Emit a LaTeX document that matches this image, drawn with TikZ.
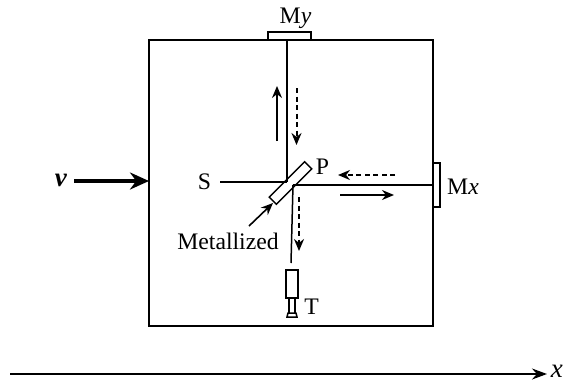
\documentclass[tikz,border=0pt]{standalone}
\usepackage{fontspec}
\setmainfont{Liberation Serif}
\usetikzlibrary{arrows.meta}
\tikzset{
  px/.style={x=1pt,y=-1pt},
  ln/.style={line width=1.7pt,line cap=butt},
  thin ln/.style={line width=1.5pt},
  part/.style={draw,thin ln,inner sep=0pt,outer sep=0pt},
  ray/.style={line width=1.6pt,-{Stealth[length=12pt,width=10pt]}},
  dray/.style={line width=2pt,dash pattern=on 5pt off 3.5pt,-{Stealth[length=12pt,width=10pt]}},
  lab/.style={inner sep=0pt,font=\fontsize{23.7}{24}\selectfont},
  big lab/.style={inner sep=0pt,font=\fontsize{27}{28}\selectfont},
}
\begin{document}
\begin{tikzpicture}[px]
\useasboundingbox (0,0) rectangle (566,381);
\fill[white] (0,0) rectangle (566,381);
% apparatus
\node[part,ln,minimum width=284pt,minimum height=286pt,anchor=north west] (box) at (149,40) {};
\node[part,minimum width=43pt,minimum height=8pt] (my) at (289.5,36) {};
\node[part,minimum width=7pt,minimum height=44pt] (mx) at (436.5,185) {};
% coordinates
\coordinate (c1) at (287,182);
\coordinate (c2) at (293,185);
\coordinate (myb) at (287,40);
\coordinate (s0) at (220,182);
\coordinate (mxb) at (433,185);
\coordinate (tb) at (291,263);
% beams
\draw[thin ln] (myb) -- (c1);
\draw[thin ln] (s0) -- (c1);
\draw[thin ln] (c2) -- (mxb);
\draw[thin ln] (c2) -- (tb);
\node[part,minimum width=10pt,minimum height=50pt,rotate=-45] (plate) at (290.5,183) {};
\node[part,minimum width=12pt,minimum height=28pt,anchor=north] (t) at (292,270) {};
% detector
\coordinate (d1) at (289,298);\coordinate (d2) at (295,298);
\coordinate (d3) at (289,313);\coordinate (d4) at (295,313);
\draw[thin ln] (d1) -- (d3) (d2) -- (d4);
\draw[thin ln,fill=white] (288,313) -- (296,313) -- (297,317) -- (287,317) -- cycle;
% direction arrows
\coordinate (u0) at (277,141);\coordinate (u1) at (277,86);
\draw[ray] (u0) -- (u1);
\coordinate (v0) at (296.5,88);\coordinate (v1) at (296.5,145);
\draw[dray] (v0) -- (v1);
\coordinate (l0) at (395,175);\coordinate (l1) at (338,175);
\draw[dray] (l0) -- (l1);
\coordinate (r0) at (340,195);\coordinate (r1) at (394,195);
\draw[ray] (r0) -- (r1);
\coordinate (b0) at (299,197);\coordinate (b1) at (299,251);
\draw[dray] (b0) -- (b1);
% labels
\node[lab] (lmy) at (295.5,18) {M\textit{y}};
\node[lab,anchor=west] (lmx) at (447,187) {M\textit{x}};
\node[lab] (ls) at (204.5,181.5) {S};
\node[lab] (lp) at (322.5,167) {P};
\node[lab] (lt) at (311.5,307) {T};
\node[lab] (lm) at (228,241) {Metallized};
\node[big lab] (lv) at (61,180) {\textbf{\textit{v}}};
\node[big lab,anchor=east] (lx) at (563,371) {\textit{x}};
% label arrows
\coordinate (m0) at (249,226);\coordinate (m1) at (273,203);
\draw[ray] (m0) -- (m1);
\coordinate (v2) at (74,181);\coordinate (v3) at (149,181);
\draw[line width=3.2pt,-{Stealth[length=19pt,width=17pt]}] (v2) -- (v3);
\coordinate (x0) at (10,374);\coordinate (x1) at (547,374);
\draw[line width=1.5pt,-{Stealth[length=15pt,width=11pt]}] (x0) -- (x1);
\end{tikzpicture}
\end{document}
